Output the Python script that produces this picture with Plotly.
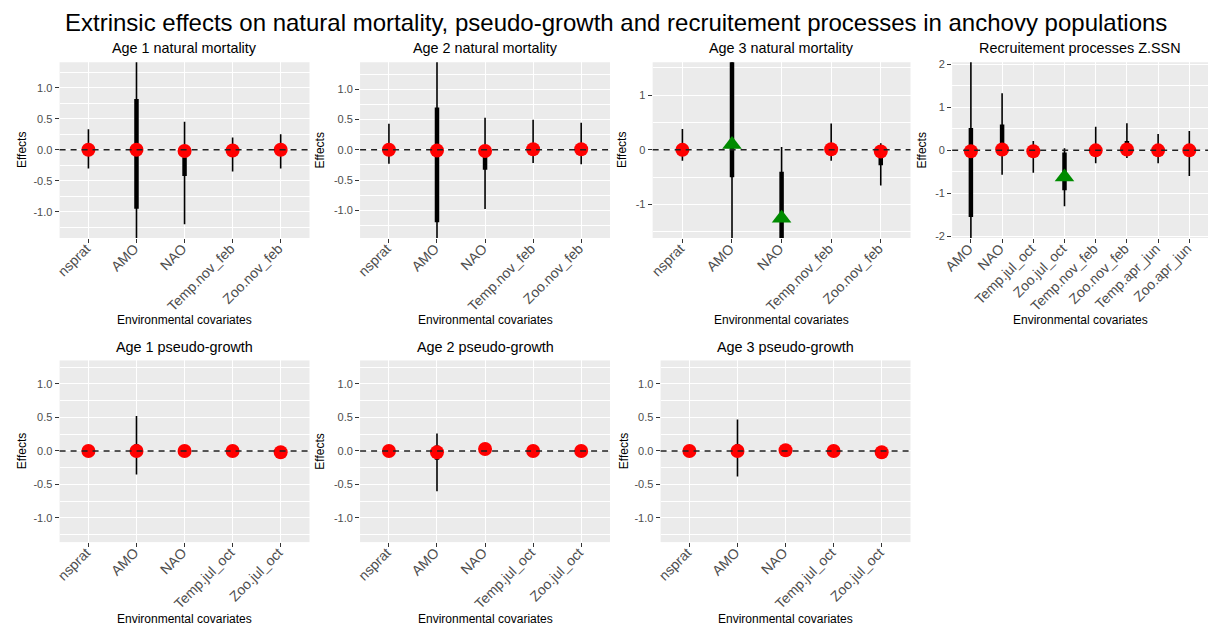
import plotly.graph_objects as go

W, H = 1213, 633

# ---------------- data ----------------
cov_nov = ["nsprat", "AMO", "NAO", "Temp.nov_feb", "Zoo.nov_feb"]
cov_jul = ["nsprat", "AMO", "NAO", "Temp.jul_oct", "Zoo.jul_oct"]
cov_rec = ["AMO", "NAO", "Temp.jul_oct", "Zoo.jul_oct", "Temp.nov_feb",
           "Zoo.nov_feb", "Temp.apr_jun", "Zoo.apr_jun"]

# Age 1 natural mortality
m1_est = [0.00, 0.00, -0.02, -0.01, 0.00]
m1_lo95 = [-0.30, -2.00, -1.20, -0.35, -0.30]
m1_hi95 = [0.33, 2.00, 0.45, 0.20, 0.25]
m1_lo50 = [-0.06, -0.95, -0.42, -0.07, -0.06]
m1_hi50 = [0.06, 0.82, -0.12, 0.05, 0.06]
m1_sig = [0, 0, 0, 0, 0]

# Age 2 natural mortality
m2_est = [0.00, -0.01, -0.02, 0.01, 0.01]
m2_lo95 = [-0.23, -2.00, -0.98, -0.22, -0.24]
m2_hi95 = [0.43, 2.00, 0.53, 0.50, 0.45]
m2_lo50 = [-0.06, -1.20, -0.33, -0.05, -0.06]
m2_hi50 = [0.08, 0.70, -0.10, 0.08, 0.07]
m2_sig = [0, 0, 0, 0, 0]

# Age 3 natural mortality
m3_est = [0.00, 0.10, -1.25, 0.01, -0.03]
m3_lo95 = [-0.20, -2.00, -2.00, -0.20, -0.65]
m3_hi95 = [0.38, 2.50, 0.05, 0.48, 0.12]
m3_lo50 = [-0.05, -0.50, -2.00, -0.05, -0.28]
m3_hi50 = [0.06, 2.00, -0.40, 0.07, -0.05]
m3_sig = [0, 1, 1, 0, 0]

# Recruitement processes Z.SSN
r_est = [-0.02, 0.02, -0.02, -0.62, 0.00, 0.02, 0.00, 0.00]
r_lo95 = [-2.60, -0.57, -0.52, -1.30, -0.30, -0.18, -0.30, -0.60]
r_hi95 = [2.60, 1.33, 0.22, 0.05, 0.55, 0.63, 0.38, 0.45]
r_lo50 = [-1.55, -0.05, -0.10, -0.93, -0.08, -0.05, -0.08, -0.10]
r_hi50 = [0.52, 0.60, 0.06, -0.05, 0.10, 0.22, 0.08, 0.08]
r_sig = [0, 0, 0, 1, 0, 0, 0, 0]

# Age 1 pseudo-growth
g1_est = [0.00, 0.00, 0.00, 0.00, -0.02]
g1_lo95 = [-0.04, -0.35, -0.04, -0.04, -0.06]
g1_hi95 = [0.04, 0.52, 0.04, 0.04, 0.02]
g1_lo50 = [-0.02, -0.08, -0.02, -0.02, -0.04]
g1_hi50 = [0.02, 0.10, 0.02, 0.02, 0.00]
g1_sig = [0, 0, 0, 0, 0]

# Age 2 pseudo-growth
g2_est = [0.00, -0.02, 0.03, 0.00, 0.00]
g2_lo95 = [-0.04, -0.60, -0.01, -0.04, -0.04]
g2_hi95 = [0.04, 0.26, 0.07, 0.04, 0.04]
g2_lo50 = [-0.02, -0.13, 0.01, -0.02, -0.02]
g2_hi50 = [0.02, 0.08, 0.05, 0.02, 0.02]
g2_sig = [0, 0, 0, 0, 0]

# Age 3 pseudo-growth
g3_est = [0.00, 0.00, 0.01, 0.00, -0.02]
g3_lo95 = [-0.04, -0.38, -0.03, -0.04, -0.06]
g3_hi95 = [0.04, 0.47, 0.05, 0.04, 0.02]
g3_lo50 = [-0.02, -0.08, -0.01, -0.02, -0.04]
g3_hi50 = [0.02, 0.10, 0.03, 0.02, 0.00]
g3_sig = [0, 0, 0, 0, 0]

titles = ["Age 1 natural mortality", "Age 2 natural mortality",
          "Age 3 natural mortality", "Recruitement processes Z.SSN",
          "Age 1 pseudo-growth", "Age 2 pseudo-growth", "Age 3 pseudo-growth"]

ticks_half = [-1.0, -0.5, 0.0, 0.5, 1.0]
ticks_half_txt = ["-1.0", "-0.5", "0.0", "0.5", "1.0"]
minor_half = [-1.25, -0.75, -0.25, 0.25, 0.75, 1.25]
ticks_one = [-1, 0, 1]
ticks_one_txt = ["-1", "0", "1"]
minor_one = [-1.5, -0.5, 0.5, 1.5]
ticks_two = [-2, -1, 0, 1, 2]
ticks_two_txt = ["-2", "-1", "0", "1", "2"]
minor_two = [-1.5, -0.5, 0.5, 1.5]

panels = [
    dict(cats=cov_nov, est=m1_est, lo95=m1_lo95, hi95=m1_hi95, lo50=m1_lo50, hi50=m1_hi50, sig=m1_sig,
         px=(50, 302, 59, 237), yr=(-1.42, 1.41), tv=ticks_half, tt=ticks_half_txt, mv=minor_half, ytx=12),
    dict(cats=cov_nov, est=m2_est, lo95=m2_lo95, hi95=m2_hi95, lo50=m2_lo50, hi50=m2_hi50, sig=m2_sig,
         px=(353, 605, 59, 237), yr=(-1.46, 1.45), tv=ticks_half, tt=ticks_half_txt, mv=minor_half, ytx=313),
    dict(cats=cov_nov, est=m3_est, lo95=m3_lo95, hi95=m3_hi95, lo50=m3_lo50, hi50=m3_hi50, sig=m3_sig,
         px=(648, 908, 59, 237), yr=(-1.61, 1.60), tv=ticks_one, tt=ticks_one_txt, mv=minor_one, ytx=617),
    dict(cats=cov_rec, est=r_est, lo95=r_lo95, hi95=r_hi95, lo50=r_lo50, hi50=r_hi50, sig=r_sig,
         px=(950, 1208, 59, 237), yr=(-2.04, 2.05), tv=ticks_two, tt=ticks_two_txt, mv=minor_two, ytx=920),
    dict(cats=cov_jul, est=g1_est, lo95=g1_lo95, hi95=g1_hi95, lo50=g1_lo50, hi50=g1_hi50, sig=g1_sig,
         px=(50, 302, 361, 545), yr=(-1.36, 1.35), tv=ticks_half, tt=ticks_half_txt, mv=minor_half, ytx=12),
    dict(cats=cov_jul, est=g2_est, lo95=g2_lo95, hi95=g2_hi95, lo50=g2_lo50, hi50=g2_hi50, sig=g2_sig,
         px=(353, 605, 361, 545), yr=(-1.36, 1.35), tv=ticks_half, tt=ticks_half_txt, mv=minor_half, ytx=313),
    dict(cats=cov_jul, est=g3_est, lo95=g3_lo95, hi95=g3_hi95, lo50=g3_lo50, hi50=g3_hi50, sig=g3_sig,
         px=(656, 908, 361, 545), yr=(-1.36, 1.35), tv=ticks_half, tt=ticks_half_txt, mv=minor_half, ytx=619),
]

FONT = "Liberation Sans, Arial, Helvetica, sans-serif"

fig = go.Figure()
shapes = []
annotations = []
layout_axes = {}

for i, p in enumerate(panels, start=1):
    xa = "x" if i == 1 else f"x{i}"
    ya = "y" if i == 1 else f"y{i}"
    xk = "xaxis" if i == 1 else f"xaxis{i}"
    yk = "yaxis" if i == 1 else f"yaxis{i}"
    x0, x1, y0, y1 = p["px"]
    cats = p["cats"]
    n = len(cats)

    # thin (outer) intervals
    tx, ty = [], []
    for c, lo, hi in zip(cats, p["lo95"], p["hi95"]):
        tx += [c, c, None]
        ty += [lo, hi, None]
    fig.add_trace(go.Scatter(x=tx, y=ty, mode="lines", xaxis=xa, yaxis=ya,
                             line=dict(color="black", width=1.6), showlegend=False,
                             hoverinfo="skip"))
    # thick (inner) intervals
    kx, ky = [], []
    for c, lo, hi in zip(cats, p["lo50"], p["hi50"]):
        kx += [c, c, None]
        ky += [lo, hi, None]
    fig.add_trace(go.Scatter(x=kx, y=ky, mode="lines", xaxis=xa, yaxis=ya,
                             line=dict(color="black", width=4.5), showlegend=False,
                             hoverinfo="skip"))
    # point estimates
    cx = [c for c, s in zip(cats, p["sig"]) if not s]
    cy = [e for e, s in zip(p["est"], p["sig"]) if not s]
    gx = [c for c, s in zip(cats, p["sig"]) if s]
    gy = [e for e, s in zip(p["est"], p["sig"]) if s]
    fig.add_trace(go.Scatter(x=cx, y=cy, mode="markers", xaxis=xa, yaxis=ya,
                             marker=dict(symbol="circle", size=14, color="#FF0000",
                                         line=dict(width=0)),
                             showlegend=False))
    if gx:
        fig.add_trace(go.Scatter(x=gx, y=gy, mode="markers", xaxis=xa, yaxis=ya,
                                 marker=dict(symbol="triangle-up", size=17, color="#008B00",
                                             line=dict(width=0)),
                                 showlegend=False))

    layout_axes[xk] = dict(
        domain=[x0 / W, x1 / W], anchor=ya, type="category",
        categoryorder="array", categoryarray=cats, range=[-0.6, n - 0.4],
        showgrid=True, gridcolor="white", gridwidth=1.1, zeroline=False,
        showline=False, ticks="outside", ticklen=4, tickwidth=1.1,
        tickcolor="#333333", tickangle=-45, ticklabelstandoff=-8, ticklabelshift=-2,
        tickfont=dict(size=14, color="#4D4D4D", family=FONT), fixedrange=True)
    layout_axes[yk] = dict(
        domain=[1 - y1 / H, 1 - y0 / H], anchor=xa, range=list(p["yr"]),
        tickmode="array", tickvals=p["tv"], ticktext=p["tt"],
        showgrid=True, gridcolor="white", gridwidth=1.1, zeroline=False,
        showline=False, ticks="outside", ticklen=4, tickwidth=1.1,
        tickcolor="#333333", tickfont=dict(size=11, color="#4D4D4D", family=FONT),
        minor=dict(tickmode="array", tickvals=p["mv"], showgrid=True,
                   gridcolor="white", gridwidth=0.55, ticks=""),
        fixedrange=True)

    # dashed zero line on top
    shapes.append(dict(type="line", xref=f"{xa} domain", yref=ya, x0=0, x1=1, y0=0, y1=0,
                       line=dict(color="#222222", width=1.5, dash="6px,5px"), layer="above"))

    xc = (x0 + x1) / 2
    # panel title
    ty_title = 45 if y0 < 300 else 347
    annotations.append(dict(text=titles[i - 1], x=xc / W, y=1 - ty_title / H, xref="paper",
                            yref="paper", showarrow=False, xanchor="center", yanchor="middle",
                            font=dict(size=14.4, color="black", family=FONT)))
    # x axis title
    xt_y = 320 if y0 < 300 else 623
    annotations.append(dict(text="Environmental covariates", x=xc / W, y=1 - xt_y / H,
                            xref="paper", yref="paper", showarrow=False, xanchor="center",
                            yanchor="middle", font=dict(size=12, color="black", family=FONT)))
    # y axis title
    annotations.append(dict(text="Effects", x=p["ytx"] / W, y=1 - ((y0 + y1) / 2) / H,
                            xref="paper", yref="paper", showarrow=False, xanchor="center",
                            yanchor="middle", textangle=-90,
                            font=dict(size=12, color="black", family=FONT)))

annotations.append(dict(
    text="Extrinsic effects on natural mortality, pseudo-growth and recruitement processes in anchovy populations",
    x=611 / W, y=1 - 19 / H, xref="paper", yref="paper", showarrow=False,
    xanchor="center", yanchor="middle", font=dict(size=24, color="black", family=FONT)))

fig.update_layout(
    width=W, height=H, margin=dict(l=0, r=0, t=0, b=0),
    paper_bgcolor="white", plot_bgcolor="#EBEBEB",
    font=dict(family=FONT), showlegend=False,
    shapes=shapes, annotations=annotations, **layout_axes)

fig.write_html("out.html", config={"displayModeBar": False},
               post_script="document.body.style.margin='0';document.body.style.overflow='hidden';")
